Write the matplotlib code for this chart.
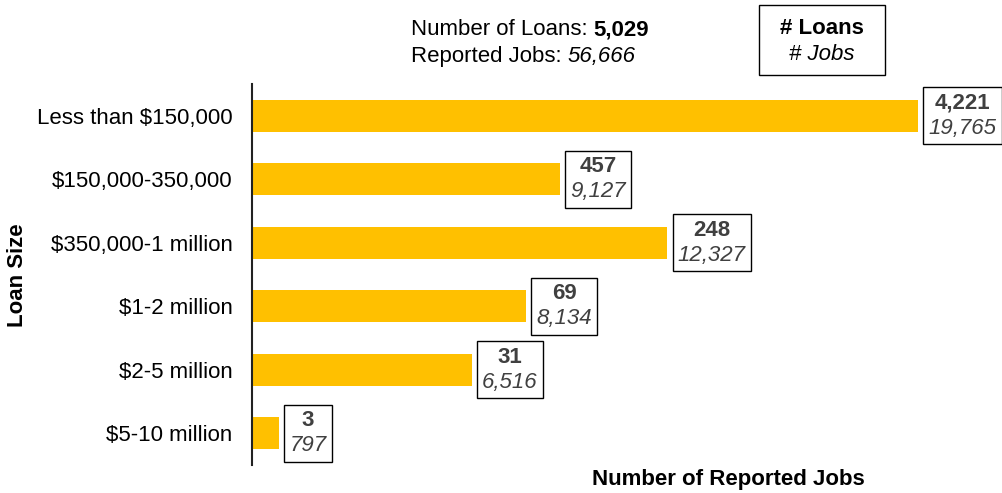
import matplotlib
matplotlib.use("Agg")
import matplotlib.pyplot as plt
from matplotlib.patches import Rectangle
from matplotlib.offsetbox import TextArea, VPacker, HPacker, AnnotationBbox

plt.rcParams['font.family'] = ['Liberation Sans', 'DejaVu Sans']

categories = ["Less than $150,000", "$150,000-350,000", "$350,000-1 million",
              "$1-2 million", "$2-5 million", "$5-10 million"]
loans = [4221, 457, 248, 69, 31, 3]
jobs = [19765, 9127, 12327, 8134, 6516, 797]
total_loans = 5029
total_jobs = 56666

FS = 16
W, H = 1003, 493
fig = plt.figure(figsize=(W/100, H/100), dpi=100)
ax = fig.add_axes([252/W, 1-465/H, (1000-252)/W, (465-84)/H])

bar_color = "#FFC000"
ypos = list(range(len(categories)))
ax.barh(ypos, jobs, height=0.5, color=bar_color)
ax.set_ylim(len(categories)-0.5, -0.5)
ax.set_xlim(0, 748/0.0337)
ax.set_yticks(ypos)
ax.set_yticklabels(categories, fontsize=FS)
ax.tick_params(axis='y', length=0, pad=14)
ax.set_xticks([])
for s in ['top', 'right', 'bottom']:
    ax.spines[s].set_visible(False)
ax.spines['left'].set_color('#222222')
ax.spines['left'].set_linewidth(1.5)

lab_col = "#404040"
for i, (n, j) in enumerate(zip(loans, jobs)):
    t1 = TextArea(f"{n:,}", textprops=dict(fontsize=FS, fontweight='bold', color=lab_col))
    t2 = TextArea(f"{j:,}", textprops=dict(fontsize=FS, fontstyle='italic', color=lab_col))
    vp = VPacker(children=[t1, t2], align='center', pad=0, sep=3)
    ab = AnnotationBbox(vp, (j, i), xybox=(7.5, 0), xycoords='data',
                        boxcoords='offset points', box_alignment=(0, 0.5),
                        frameon=True, pad=0.38,
                        bboxprops=dict(edgecolor='black', linewidth=1.0, facecolor='white'))
    ax.add_artist(ab)

# top summary text
r1 = HPacker(children=[TextArea("Number of Loans: ", textprops=dict(fontsize=FS)),
                       TextArea(f"{total_loans:,}", textprops=dict(fontsize=FS, fontweight='bold'))],
             align='baseline', pad=0, sep=0)
r2 = HPacker(children=[TextArea("Reported Jobs: ", textprops=dict(fontsize=FS)),
                       TextArea(f"{total_jobs:,}", textprops=dict(fontsize=FS, fontstyle='italic'))],
             align='baseline', pad=0, sep=0)
summ = VPacker(children=[r1, r2], align='left', pad=0, sep=4)
ab = AnnotationBbox(summ, (411/W, 1-43/H), xycoords='figure fraction',
                    box_alignment=(0, 0.5), frameon=False, pad=0)
fig.add_artist(ab)

# legend box
fig.add_artist(Rectangle((759/W, 1-75/H), 126/W, 70/H, transform=fig.transFigure,
                         facecolor='white', edgecolor='black', linewidth=1.0))
fig.text(822/W, 1-28/H, "# Loans", ha='center', va='center', fontsize=FS, fontweight='bold')
fig.text(822/W, 1-54/H, "# Jobs", ha='center', va='center', fontsize=FS, fontstyle='italic')

fig.text(18/W, 1-275/H, "Loan Size", rotation=90, ha='center', va='center',
         fontsize=FS, fontweight='bold')
fig.text(728/W, 1-480/H, "Number of Reported Jobs", ha='center', va='center',
         fontsize=FS, fontweight='bold')

fig.savefig("out.png", dpi=100)
